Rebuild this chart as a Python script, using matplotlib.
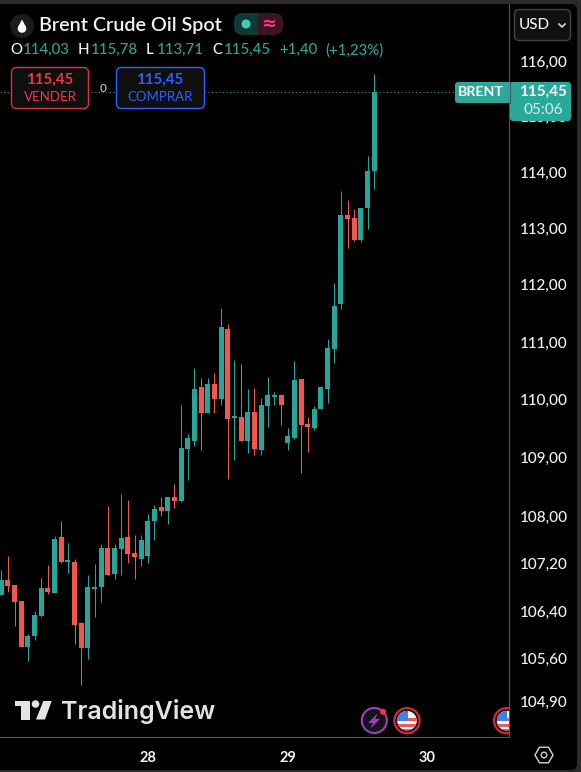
import numpy as np
import matplotlib
matplotlib.use('Agg')
import matplotlib.pyplot as plt
from matplotlib.patches import FancyBboxPatch, Circle, Polygon, Rectangle
from matplotlib.ticker import NullLocator, NullFormatter

plt.rcParams['font.family'] = ['Lato', 'DejaVu Sans']

opens = [106.67, 106.92, 106.83, 106.57, 105.80, 105.98, 106.31, 106.78, 106.70, 107.64,
         107.23, 107.23, 106.20, 105.78, 106.77, 106.80, 107.46, 107.02, 107.44, 107.64,
         107.37, 107.28, 107.32, 107.92, 108.16, 108.09, 108.33, 108.26, 109.14, 109.29,
         110.21, 109.76, 110.26, 110.00, 111.23, 109.67, 109.69, 109.28, 109.79, 109.12,
         109.88, 110.04, 110.07, 109.24, 109.33, 110.35, 109.57, 109.50, 109.83, 110.18,
         110.88, 111.67, 113.23, 113.18, 112.80, 113.36, 114.03]
highs = [107.08, 107.32, 106.83, 106.57, 106.01, 106.40, 106.95, 107.17, 107.66, 107.92,
         107.54, 107.27, 106.21, 107.00, 107.19, 107.52, 108.17, 107.52, 108.38, 108.28,
         107.68, 107.68, 108.04, 108.19, 108.33, 108.33, 108.54, 109.90, 109.41, 110.54,
         110.37, 110.37, 110.46, 111.60, 111.32, 110.68, 110.61, 110.18, 110.19, 110.02,
         110.39, 110.12, 110.07, 109.50, 110.67, 110.35, 109.69, 109.88, 110.23, 111.05,
         112.03, 113.66, 113.50, 113.34, 113.37, 114.30, 115.78]
lows = [106.67, 106.72, 106.14, 105.80, 105.56, 105.91, 106.29, 106.68, 106.70, 107.20,
        107.03, 105.85, 105.16, 105.60, 106.30, 106.55, 107.00, 106.93, 107.00, 107.20,
        106.93, 107.15, 107.20, 107.59, 108.00, 107.87, 108.14, 108.24, 108.61, 109.19,
        109.12, 109.76, 109.76, 109.91, 108.63, 108.95, 109.29, 109.07, 109.05, 109.05,
        109.53, 109.91, 109.55, 109.12, 109.31, 108.73, 109.10, 109.48, 109.83, 109.93,
        110.63, 111.58, 112.65, 112.77, 112.75, 112.98, 113.71]
closes = [106.92, 106.82, 106.55, 105.80, 105.98, 106.33, 106.78, 106.72, 107.61, 107.23,
          107.25, 106.16, 105.78, 106.80, 106.80, 107.46, 107.00, 107.46, 107.63, 107.35,
          107.30, 107.59, 107.92, 108.12, 108.09, 108.33, 108.26, 109.17, 109.34, 110.18,
          109.76, 110.26, 110.00, 111.26, 109.66, 109.71, 109.29, 109.79, 109.14, 109.90,
          110.07, 110.07, 109.91, 109.36, 110.33, 109.55, 109.53, 109.83, 110.21, 110.90,
          111.63, 113.23, 113.16, 112.80, 113.37, 114.03, 115.45]

y_ticks = [116, 115, 114, 113, 112, 111, 110, 109, 108, 107.2, 106.4, 105.6, 104.9]
day_positions = [22, 43, 64]
day_labels = ['28', '29', '30']

GREEN = '#26a69a'
RED = '#f4564f'
TEXT = '#f2f2f2'
W, H = 581, 772

fig = plt.figure(figsize=(W / 100, H / 100), dpi=100, facecolor='#2b2b2b')

# window background
bg = fig.add_axes([0, 0, 1, 1], zorder=0)
bg.set_xlim(0, W)
bg.set_ylim(H, 0)
bg.axis('off')
bg.add_patch(FancyBboxPatch((-20, 4), 597, 766, boxstyle='round,pad=0,rounding_size=6',
                            fc='black', ec='none'))

# price chart, left 509 px wide, log price scale
ax = fig.add_axes([0, (H - 737) / H, 509 / W, 733 / H], zorder=1)
ax.set_facecolor('black')
ax.set_yscale('log')
ax.set_xlim(-0.195, 76.23)
ax.set_ylim(104.31, 117.06)

x = np.arange(len(opens))
o, h, l, c = map(np.array, (opens, highs, lows, closes))
colors = np.where(c >= o, GREEN, RED)
wicks = ax.vlines(x, l, h, colors=colors, linewidth=0.75)
wicks.set_snap(True)
ax.bar(x, np.maximum(np.abs(c - o), 0.02), bottom=np.minimum(o, c), width=0.75,
       color=colors, linewidth=0)
ax.axhline(closes[-1], color=GREEN, linewidth=0.75, linestyle=(0, (1, 2.5)))

ax.yaxis.tick_right()
ax.yaxis.set_minor_locator(NullLocator())
ax.yaxis.set_minor_formatter(NullFormatter())
ax.set_yticks(y_ticks)
ax.set_yticklabels([f'{v:.2f}'.replace('.', ',') for v in y_ticks], fontweight=500)
ax.set_xticks(day_positions)
ax.set_xticklabels(day_labels, fontweight=700)
ax.tick_params(axis='y', length=0, pad=8, labelsize=11, labelcolor=TEXT)
ax.tick_params(axis='x', length=0, pad=10, labelsize=10.5, labelcolor=TEXT)
for side in ['top', 'left']:
    ax.spines[side].set_visible(False)
for side in ['right', 'bottom']:
    ax.spines[side].set_color('#55555f')
    ax.spines[side].set_linewidth(0.8)

# interface elements on top, in pixel coordinates
ui = fig.add_axes([0, 0, 1, 1], zorder=2)
ui.set_xlim(0, W)
ui.set_ylim(H, 0)
ui.axis('off')
ui.patch.set_alpha(0)


def label(px, py, s, color=TEXT, size=10.8, ha='left', weight=500, **kw):
    return ui.text(px, py, s, color=color, fontsize=size, ha=ha, va='center', fontweight=weight, **kw)


def box(x0, y0, w, h, fc, ec='none', r=4, lw=1.0):
    ui.add_patch(FancyBboxPatch((x0, y0), w, h, boxstyle=f'round,pad=0,rounding_size={r}',
                                fc=fc, ec=ec, lw=lw))


# symbol row
ui.add_patch(Circle((22, 26), 12, fc='#1c1c1c', ec='none'))
ui.add_patch(Circle((22, 28.5), 4.3, fc='white', ec='none'))
ui.add_patch(Polygon([(18.3, 26.5), (22, 19.5), (25.7, 26.5)], fc='white', ec='none'))
label(39, 25, 'Brent Crude Oil Spot', size=14.2, weight=600)

box(234, 13, 49, 22, '#3d1426', r=9)
box(234, 13, 24, 22, '#0e3a36', r=9)
ui.add_patch(Rectangle((250, 13), 8, 22, fc='#0e3a36', ec='none'))
ui.add_patch(Circle((246, 24), 4.5, fc='#3fcfb8', ec='none'))
label(269, 24, '≈', color='#f23f7f', size=13, ha='center', weight='bold', family='DejaVu Sans')

# ohlc row
for px, s, col in [(10, 'O', TEXT), (23, '114,03', GREEN), (78, 'H', TEXT),
                   (91, '115,78', GREEN), (146, 'L', TEXT), (157, '113,71', GREEN),
                   (212, 'C', TEXT), (224, '115,45', GREEN), (279, '+1,40', GREEN),
                   (325, '(+1,23%)', GREEN)]:
    label(px, 50, s, color=col, size=10.8)

# buy and sell boxes
box(11.5, 67.5, 77, 41, '#0f0f0f', ec='#e0303f', r=5)
label(50, 80, '115,45', color='#f23645', size=10.8, ha='center', weight=700)
label(50, 97, 'VENDER', color='#f23645', size=9.5, ha='center', weight=400)
label(103, 88, '0', color='#c8c8c8', size=8.5, ha='center')
box(116.5, 67.5, 88, 41, '#0f0f0f', ec='#2962ff', r=5)
label(160, 80, '115,45', color='#2962ff', size=10.8, ha='center', weight=700)
label(160, 97, 'COMPRAR', color='#2962ff', size=9.5, ha='center', weight=400)

# price labels
box(455, 82, 56, 21, '#2aa99a', r=3)
label(481, 92.5, 'BRENT', color='white', size=10.2, ha='center', weight=700)
box(510, 82, 61, 39, '#2aa99a', r=3)
ui.plot([509.5, 509.5], [82, 103], color='#55555f', lw=0.8)
label(543, 92, '115,45', color='white', size=11, ha='center', weight=700)
label(543, 110, '05:06', color='#c5ebe5', size=11, ha='center')

# currency button
box(514.5, 9.5, 56, 31, '#101010', ec='#444444', r=5)
label(519, 25, 'USD', size=11)
ui.plot([559, 562, 565], [24, 27, 24], color='#d8d8d8', lw=1.2)

# tradingview logo
logo = '#e3e3e3'
ui.add_patch(Polygon([(15, 701), (30, 701), (30, 719.5), (21, 719.5), (21, 706), (15, 706)], fc=logo, ec='none'))
ui.add_patch(Circle((35.5, 704), 3.8, fc=logo, ec='none'))
ui.add_patch(Polygon([(43.3, 701), (51.7, 701), (45, 719.5), (36, 719.5)], fc=logo, ec='none'))
ui.text(61, 711, 'TradingView', color=logo, fontsize=18, va='center', fontweight=600, family='Inter')

# event markers
ui.add_patch(Circle((374.3, 720.5), 12.5, fc='#141414', ec='#9c3fc0', lw=1.5))
ui.add_patch(Polygon([(378, 713), (368, 723), (373, 723), (370, 729), (380, 719), (375, 719)], fc='#9c3fc0', ec='none'))
ui.add_patch(Circle((383, 711.7), 3, fc='#f23645', ec='none'))


def flag(cx, cy):
    # ring, stripes and canton, all cut at the price axis
    area = Rectangle((0, 0), 509, H, transform=ui.transData)
    ring = Circle((cx, cy), 12.6, fc='#0c0c0c', ec='#d9263a', lw=1.6)
    ui.add_patch(ring)
    ring.set_clip_path(area)
    disk = Circle((cx, cy), 9.8, fc='#f7f7f7', ec='none')
    ui.add_patch(disk)
    disk.set_clip_path(area)
    stripe_w = min(cx + 10, 509) - (cx - 10)
    parts = [Rectangle((cx - 10, cy - 3), stripe_w, 3, fc='#ee5a5a', ec='none'),
             Rectangle((cx - 10, cy + 3), stripe_w, 3, fc='#ee5a5a', ec='none'),
             Rectangle((cx - 10, cy + 8), stripe_w, 3, fc='#ee5a5a', ec='none'),
             Rectangle((cx - 10, cy - 10), 10.5, 10, fc='#3d82e6', ec='none')]
    for p in parts:
        ui.add_patch(p)
        p.set_clip_path(disk)


flag(407, 720.7)
flag(506.6, 720.7)

# settings hexagon
ang = np.deg2rad(np.arange(0, 360, 60))
ui.add_patch(Polygon(np.column_stack([544 + 9 * np.cos(ang), 755 + 9 * np.sin(ang)]),
                     fc='none', ec='#d8d8d8', lw=1.0))
ui.add_patch(Circle((544, 755), 2.8, fc='none', ec='#d8d8d8', lw=1.0))

fig.savefig('out.png', dpi=100, facecolor=fig.get_facecolor())
